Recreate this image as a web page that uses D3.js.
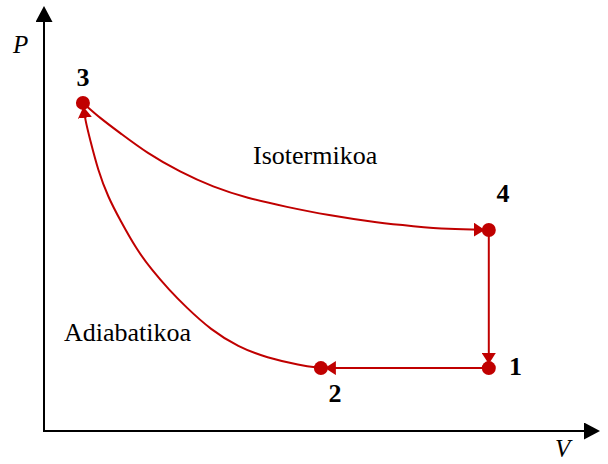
<!DOCTYPE html>
<html>
  <head>
    <script src="https://d3js.org/d3.v7.min.js"></script>
    <style>
      body { margin: 0; background: #fff; }
      .curve { fill: none; stroke: #c00000; stroke-width: 2; }
      .axis-line { stroke: #000; stroke-width: 2; }
      .lbl { font-family: "Liberation Serif", Tinos, "Times New Roman", serif; font-size: 26px; fill: #000; }
      .num { font-family: "Liberation Serif", Tinos, "Times New Roman", serif; font-size: 26px; font-weight: bold; fill: #000; }
      .ax { font-family: "Liberation Serif", Tinos, "Times New Roman", serif; font-size: 25px; font-style: italic; fill: #000; }
    </style>
  </head>
  <body>
    <script>
      // state points of the cycle (V, P in arbitrary units)
      var states = ["1", "2", "3", "4"];
      var stateV = [80.0, 49.8, 7.0, 80.0];
      var stateP = [14.8, 14.8, 77.2, 47.3];

      // isothermal branch 3 -> 4
      var isoV = [7.0, 10.1, 13.7, 18.5, 24.5, 30.4, 36.5, 43.7, 50.9, 60.4, 66.4, 72.5, 80.0];
      var isoP = [77.2, 73.6, 70.1, 65.4, 60.9, 57.4, 54.8, 52.7, 50.8, 48.9, 48.2, 47.5, 47.3];

      // adiabatic branch 2 -> 3
      var adiaV = [49.8, 46.0, 40.1, 34.9, 30.0, 25.5, 22.5, 19.4, 16.7, 13.7, 11.5, 9.7, 8.3, 7.4, 7.0];
      var adiaP = [14.8, 15.5, 17.2, 19.8, 23.8, 29.2, 33.2, 37.9, 42.6, 49.6, 55.1, 61.4, 68.5, 73.2, 77.2];

      var curveNames = ["Isotermikoa", "Adiabatikoa"];
      var axisNames = ["V", "P"];

      var width = 608, height = 464;

      var x = d3.scaleLinear().domain([0, 100]).range([44, 600]);
      var y = d3.scaleLinear().domain([0, 100]).range([431, 6]);

      var svg = d3.select("body").append("svg")
        .attr("width", width)
        .attr("height", height);

      var defs = svg.append("defs");

      // black arrowhead for the axes, base sits at the line end
      defs.append("marker")
        .attr("id", "axArrow")
        .attr("viewBox", "0 -8.5 16 17")
        .attr("refX", 0).attr("refY", 0)
        .attr("markerWidth", 16).attr("markerHeight", 17)
        .attr("markerUnits", "userSpaceOnUse")
        .attr("orient", "auto")
        .append("path")
        .attr("d", "M0,-8.5L16,0L0,8.5Z")
        .attr("fill", "#000");

      // red arrowhead, tip stops a bit before the state dot centre
      defs.append("marker")
        .attr("id", "redArrow")
        .attr("viewBox", "0 -7 16 14")
        .attr("refX", 15).attr("refY", 0)
        .attr("markerWidth", 16).attr("markerHeight", 14)
        .attr("markerUnits", "userSpaceOnUse")
        .attr("orient", "auto")
        .append("path")
        .attr("d", "M0,-7L11,0L0,7Z")
        .attr("fill", "#c00000");

      // axes
      svg.append("line").attr("class", "axis-line")
        .attr("x1", x(0)).attr("y1", y(0))
        .attr("x2", x(100) - 16).attr("y2", y(0))
        .attr("marker-end", "url(#axArrow)");
      svg.append("line").attr("class", "axis-line")
        .attr("x1", x(0)).attr("y1", y(0) + 1)
        .attr("x2", x(0)).attr("y2", y(100) + 16)
        .attr("marker-end", "url(#axArrow)");

      svg.append("text").attr("class", "ax")
        .attr("x", 555).attr("y", 457).text(axisNames[0]);
      svg.append("text").attr("class", "ax")
        .attr("x", 13).attr("y", 53).text(axisNames[1]);

      var line = d3.line()
        .x(function(d) { return x(d[0]); })
        .y(function(d) { return y(d[1]); })
        .curve(d3.curveBasis);

      var iso = d3.zip(isoV, isoP);
      var adia = d3.zip(adiaV, adiaP);
      var p = d3.zip(stateV, stateP);

      var paths = [
        [p[0], p[1]],   // 1 -> 2 isobar
        adia,           // 2 -> 3
        iso,            // 3 -> 4
        [p[3], p[0]]    // 4 -> 1 isochore
      ];

      svg.selectAll(".curve")
        .data(paths)
        .enter().append("path")
        .attr("class", "curve")
        .attr("d", line)
        .attr("marker-end", "url(#redArrow)");

      svg.selectAll(".state")
        .data(p)
        .enter().append("circle")
        .attr("class", "state")
        .attr("cx", function(d) { return x(d[0]); })
        .attr("cy", function(d) { return y(d[1]); })
        .attr("r", 7)
        .attr("fill", "#c00000");

      // state numbers
      var numPos = [[509, 375, "start"], [335, 402, "middle"], [83, 86, "middle"], [503, 202, "middle"]];
      svg.selectAll(".num")
        .data(states)
        .enter().append("text")
        .attr("class", "num")
        .attr("x", function(d, i) { return numPos[i][0]; })
        .attr("y", function(d, i) { return numPos[i][1]; })
        .attr("text-anchor", function(d, i) { return numPos[i][2]; })
        .text(function(d) { return d; });

      svg.append("text").attr("class", "lbl")
        .attr("x", 253).attr("y", 164).text(curveNames[0]);
      svg.append("text").attr("class", "lbl")
        .attr("x", 64).attr("y", 341).text(curveNames[1]);
    </script>
  </body>
</html>
